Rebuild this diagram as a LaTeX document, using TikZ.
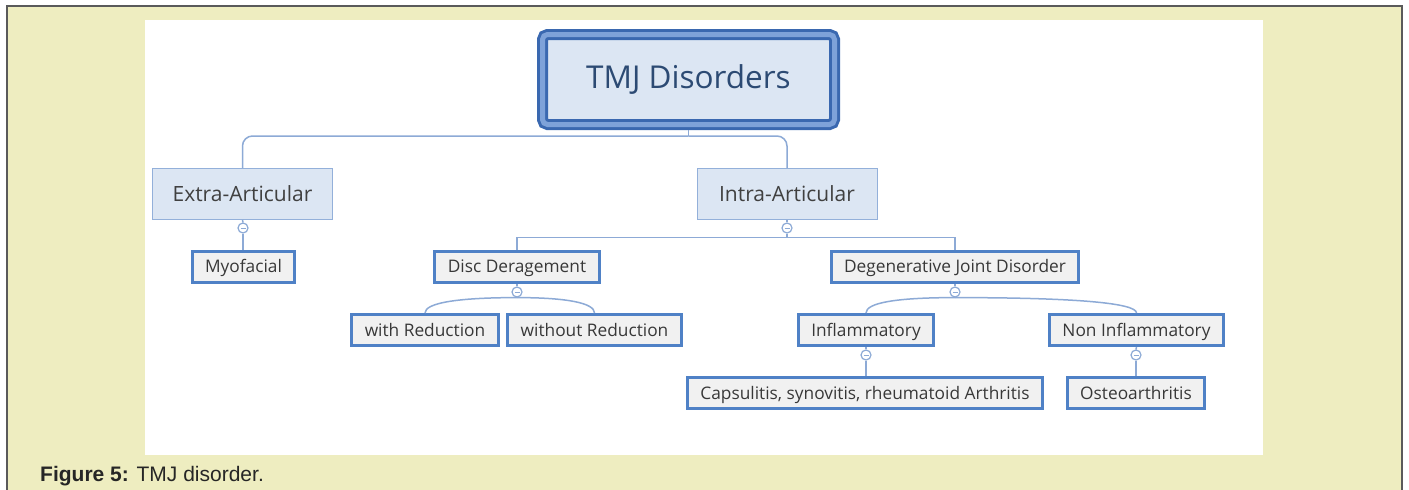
\documentclass[tikz,border=0pt]{standalone}
\usepackage{fontspec}
\setmainfont{Open Sans}
\newfontfamily\captionFont{Liberation Sans}
\usetikzlibrary{positioning}
\definecolor{pageYellow}{HTML}{EEEDC0}
\definecolor{frameGray}{HTML}{5A5A5A}
\definecolor{rootDark}{HTML}{3A68B0}
\definecolor{rootMid}{HTML}{7EA2D9}
\definecolor{paleBlue}{HTML}{DCE6F3}
\definecolor{mainEdge}{HTML}{93B0DA}
\definecolor{leafEdge}{HTML}{4F81C6}
\definecolor{leafFill}{HTML}{F1F1F1}
\definecolor{linkBlue}{HTML}{8DAAD6}
\definecolor{rootText}{HTML}{2C4A73}

\begin{document}
\begin{tikzpicture}[%%
  x=1pt,y=-1pt,%%
  rootBox/.style={draw=rootDark,double=rootMid,line width=3pt,double distance=5pt,%%
    rounded corners=5pt,fill=paleBlue,minimum width=292pt,minimum height=90pt,%%
    outer sep=5.5pt,text=rootText,font=\fontsize{31.5}{36}\selectfont},%%
  mainBox/.style={draw=mainEdge,line width=1pt,fill=paleBlue,minimum width=180pt,%%
    minimum height=51pt,text=black!75,font=\fontsize{21}{25}\selectfont},%%
  leafBox/.style={draw=leafEdge,line width=3pt,fill=leafFill,inner xsep=13pt,inner ysep=0pt,%%
    text height=13.4pt,text depth=0.6pt,%%
    minimum height=31pt,text=black!78,font=\fontsize{17.3}{20}\selectfont},%%
  linkLine/.style={draw=linkBlue,line width=1.5pt},%%
  foldMark/.style={circle,draw=linkBlue,fill=white,line width=1.2pt,minimum size=10pt,inner sep=0pt,%%
    path picture={\draw[linkBlue,line width=1pt] ([xshift=-2.5pt]path picture bounding box.center)
      -- ([xshift=2.5pt]path picture bounding box.center);}},%%
]
%%
%% The page and the white panel.
\useasboundingbox (0,0) rectangle (1409,490);
\fill[pageYellow] (7,6) rectangle (1402,490);
\draw[frameGray,line width=2pt] (7,490) -- (7,6) -- (1402,6) -- (1402,490);
\fill[white] (145,20) rectangle (1263,455);
\node[anchor=base west,inner sep=0pt,font=\captionFont\fontsize{21}{25}\selectfont,text=black!85]
  (caption) at (40,481) {\textbf{Figure 5:} TMJ disorder.};
%%
%% The boxes.
\node[rootBox] (root) at (688.5,79.5) {TMJ Disorders};
\node[mainBox] (extra) at (242.5,194) {Extra-Articular};
\node[mainBox] (intra) at (787,194) {Intra-Articular};
\node[leafBox] (myo) at (243.5,266.5) {Myofacial};
\node[leafBox] (disc) at (517,266.5) {Disc Deragement};
\node[leafBox] (degen) at (955,266.5) {Degenerative Joint Disorder};
\node[leafBox] (withR) at (425,330) {with Reduction};
\node[leafBox] (withoutR) at (594.5,330) {without Reduction};
\node[leafBox] (inflam) at (866,330) {Inflammatory};
\node[leafBox] (noninflam) at (1136.5,330) {Non Inflammatory};
\node[leafBox] (capsul) at (865,393) {Capsulitis, synovitis, rheumatoid Arthritis};
\node[leafBox] (osteo) at (1136,393) {Osteoarthritis};
%%
%% The fold marks under the parents.
\node[foldMark] (fExtra) at (243,228) {};
\node[foldMark] (fIntra) at (787,228) {};
\node[foldMark] (fDisc) at (517,292) {};
\node[foldMark] (fDegen) at (955,292) {};
\node[foldMark] (fInflam) at (866,355) {};
\node[foldMark] (fNon) at (1136,355) {};
%%
%% Root to the two groups.
\draw[linkLine] (root.south) -- ++(0,6) coordinate (rootJoin);
\draw[linkLine,rounded corners=10pt] (rootJoin) -| (extra.north);
\draw[linkLine,rounded corners=10pt] (rootJoin) -| (intra.north);
%% Straight links.
\draw[linkLine] (extra.south) -- (fExtra.north);
\draw[linkLine] (fExtra.south) -- (fExtra.south |- myo.north);
\draw[linkLine] (intra.south) -- (fIntra.north);
\draw[linkLine] (fIntra.south) -- ++(0,4) coordinate (intraJoin);
\draw[linkLine] (intraJoin) -| (disc.north);
\draw[linkLine] (intraJoin) -| (degen.north);
\draw[linkLine] (disc.south) -- (fDisc.north);
\draw[linkLine] (degen.south) -- (fDegen.north);
\draw[linkLine] (inflam.south) -- (fInflam.north);
\draw[linkLine] (fInflam.south) -- (fInflam.south |- capsul.north);
\draw[linkLine] (noninflam.south) -- (fNon.north);
\draw[linkLine] (fNon.south) -- (fNon.south |- osteo.north);
%% Curved links.
\draw[linkLine] (fDisc.south) .. controls +(-60,0) and +(0,-10) .. (withR.north);
\draw[linkLine] (fDisc.south) .. controls +(50,0) and +(0,-10) .. (withoutR.north);
\draw[linkLine] (fDegen.south) .. controls +(-60,0) and +(0,-10) .. (inflam.north);
\draw[linkLine] (fDegen.south) .. controls +(120,0) and +(0,-10) .. (noninflam.north);
\end{tikzpicture}
\end{document}
